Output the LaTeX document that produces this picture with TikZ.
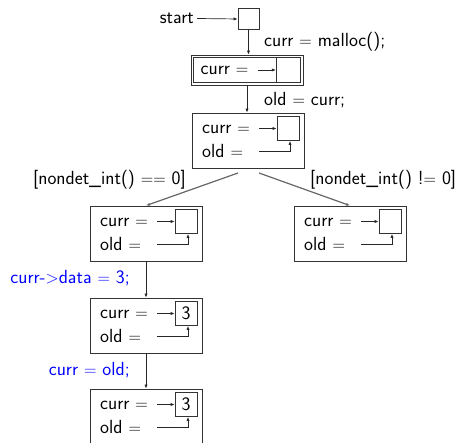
\documentclass[tikz,border=0pt]{standalone}
\usetikzlibrary{arrows.meta}
\renewcommand\familydefault{\sfdefault}
\begin{document}
\begin{tikzpicture}[x=1pt,y=-1pt,
  font=\fontsize{19}{22}\selectfont\sffamily,
  frame/.style={draw=black!80,line width=0.8pt},
  statebox/.style={frame,minimum width=112pt,minimum height=55pt,inner sep=0pt},
  cell/.style={frame,minimum width=22pt,minimum height=24pt,inner sep=0pt},
  lbl/.style={inner sep=0pt,anchor=west},
  ptr/.style={draw=black!85,line width=0.7pt,-{Latex[length=4pt,width=3.2pt]}},
  flow/.style={draw=black!85,line width=0.7pt,-{Latex[length=4pt,width=3.2pt]}},
  branch/.style={draw=black!60,line width=1.2pt,-{Latex[length=4pt,width=3.2pt]}},
  stmt/.style={inner sep=0pt,text=blue},
  guard/.style={inner sep=0pt}]

\useasboundingbox (0,0) rectangle (457,443);

% one heap state: a frame with the curr and old pointers and the cell
\newcommand\heapstate[4]{%
  \node[statebox] (#1) at (#2+56,#3+27.5) {};
  \node[lbl] (#1c) at (#2+10,#3+16.5) {curr $=$};
  \node[lbl] (#1o) at (#2+10,#3+38) {old $=$};
  \node[cell] (#1s) at (#2+96,#3+15.5) {#4};
  \coordinate (#1cp) at (#2+67,#3+15.5);
  \coordinate (#1op) at (#2+67,#3+38);
  \coordinate (#1ok) at (#2+98,#3+38);
  \draw[ptr] (#1cp) -- (#1s.west);
  \draw[ptr] (#1op) -- (#1ok) -- (#1ok |- #1s.south);
}

% entry
\node[inner sep=0pt,anchor=east] (start) at (194,18.5) {start};
\node[frame,minimum width=21pt,minimum height=21pt,inner sep=0pt] (init) at (248.5,19) {};
\draw[flow] (start.east) ++(3,0) coordinate (startp) -- (init.west);

% after malloc
\node[frame,minimum width=112pt,minimum height=30pt,inner sep=0pt] (alloc) at (247,70) {};
\node[frame,minimum width=107pt,minimum height=25.5pt,inner sep=0pt] (allocin) at (247.2,70) {};
\node[cell,minimum width=24.4pt,minimum height=25.5pt] (allocs) at (288.5,70) {};
\node[lbl] (allocc) at (200.5,70) {curr $=$};
\coordinate (allocp) at (258,70);
\draw[ptr] (allocp) -- (allocs.west);
\draw[flow] (init.south) -- (init.south |- alloc.north);
\node[lbl] (l1) at (264,42) {curr $=$ malloc();};

% after old = curr
\heapstate{s1}{192}{113}{}
\draw[flow] (alloc.south) -- (alloc.south |- s1.north);
\node[lbl] (l2) at (264,100) {old $=$ curr;};

% the two branches
\heapstate{s2}{90}{206}{}
\heapstate{s3}{294}{206}{}
\coordinate (b1) at (238,173);
\coordinate (b2) at (259,173);
\draw[branch] (b1) -- (s2.north);
\draw[branch] (b2) -- (s3.north);
\node[guard,anchor=east] (g1) at (186,180) {[nondet\_int() $==$ 0]};
\node[guard,anchor=west] (g2) at (310,180) {[nondet\_int() !$=$ 0]};

% left branch continues
\heapstate{s4}{90}{298}{3}
\draw[flow] (s2.south) -- (s4.north);
\node[stmt,anchor=east] (l3) at (130,278) {curr-$>$data $=$ 3;};

\heapstate{s5}{90}{389}{3}
\draw[flow] (s4.south) -- (s5.north);
\node[stmt,anchor=east] (l4) at (130,370) {curr $=$ old;};
\end{tikzpicture}
\end{document}
